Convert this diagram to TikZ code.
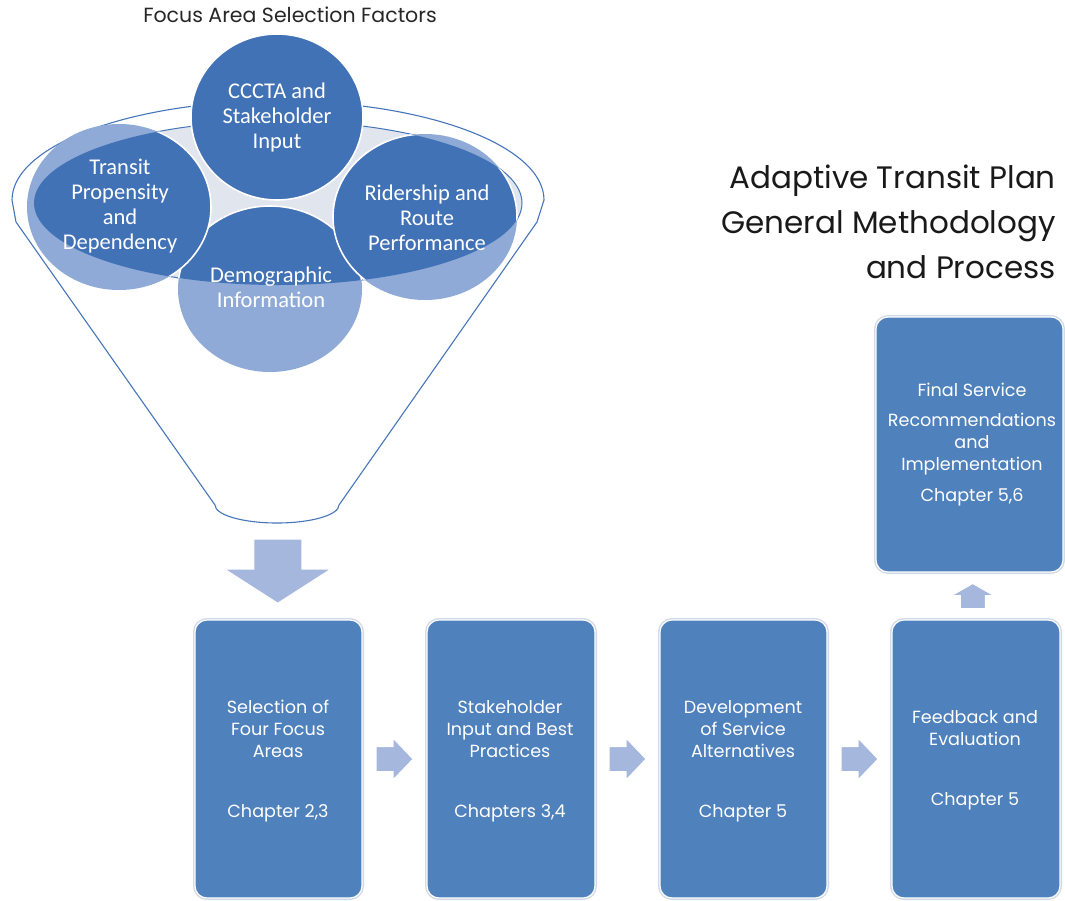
\documentclass[tikz,border=0pt]{standalone}
\usepackage{fontspec}
\setmainfont{Poppins}
\newfontfamily\calib{Carlito}
\usetikzlibrary{calc}
\definecolor{boxblue}{RGB}{79,129,189}
\definecolor{cdark}{RGB}{66,114,182}
\definecolor{clight}{RGB}{143,170,214}
\definecolor{gapcol}{RGB}{224,229,238}
\definecolor{arrowcol}{RGB}{165,183,221}
\definecolor{linecol}{RGB}{70,118,185}
\definecolor{glowcol}{RGB}{210,218,232}
\tikzset{
  stepbox/.style={rounded corners=12pt, fill=boxblue, draw=white, line width=1.2pt,
    preaction={draw=glowcol, line width=4pt}, inner sep=0pt},
  btext/.style={text=white, align=center, inner sep=0pt, font=\fontsize{17.6}{22}\selectfont},
  ctext/.style={text=white, align=center, inner sep=0pt, font=\calib\fontsize{22.5}{25}\selectfont},
  blockarrow/.style={fill=arrowcol, draw=white, line width=1pt, line join=miter},
  funnelline/.style={draw=linecol, line width=1.1pt}
}
\begin{document}
\begin{tikzpicture}[x=1pt,y=-1pt]
\useasboundingbox (0,0) rectangle (1065,900);
% heading
\node[font=\fontsize{20.5}{24}\selectfont, text=black!85, inner sep=0pt] (factors) at (290,15) {Focus Area Selection Factors};
% funnel body
\path[funnelline, fill=white] (12,200) arc[start angle=180, end angle=360, x radius=266, y radius=99]
  -- (537,222) -- (339,505) arc[start angle=0, end angle=180, x radius=62, y radius=18]
  -- (16,222) -- cycle;
\coordinate (fbottom) at (277,523);
% inner rim
\def\rim{(278,203) ellipse[x radius=244, y radius=82]}
\path[draw=linecol, line width=1pt, fill=gapcol] \rim;
% circles: Demographic, Transit, Ridership
\foreach \cx/\cy in {270/289, 119/207, 425/217}{
  \fill[clight] (\cx,\cy) ellipse[x radius=92, y radius=83];
  \begin{scope}
    \clip \rim;
    \path[fill=cdark, draw=white, line width=1.6pt] (\cx,\cy) ellipse[x radius=92, y radius=83];
  \end{scope}
}
\path[fill=cdark, draw=white, line width=1.6pt] (277,117) ellipse[x radius=86, y radius=83];
\node[ctext] (cccta) at (277,117) {CCCTA and\\Stakeholder\\Input};
\node[ctext] (transit) at (120,206) {Transit\\Propensity\\and\\Dependency};
\node[ctext] (rider) at (427,218) {Ridership and\\Route\\Performance};
\node[ctext] (demo) at (271,287) {Demographic\\Information};
% title
\node[anchor=east, align=right, inner sep=0pt, text=black!90, font=\fontsize{31}{45}\selectfont] (title) at (1056,222)
  {Adaptive Transit Plan\\General Methodology\\and Process};
% boxes
\node[stepbox, minimum width=167pt, minimum height=278pt] (b1) at (278.5,759) {};
\node[stepbox, minimum width=168pt, minimum height=278pt] (b2) at (511,759) {};
\node[stepbox, minimum width=167pt, minimum height=278pt] (b3) at (743.5,759) {};
\node[stepbox, minimum width=168pt, minimum height=278pt] (b4) at (976,759) {};
\node[stepbox, minimum width=187pt, minimum height=255pt] (b5) at (969.5,444.5) {};
% box texts
\node[btext] (t1) at (278,729) {Selection of\\Four Focus\\Areas};
\node[btext] (c1) at (278,813) {Chapter 2,3};
\node[btext] (t2) at (510,729) {Stakeholder\\Input and Best\\Practices};
\node[btext] (c2) at (510,813) {Chapters 3,4};
\node[btext] (t3) at (743,729) {Development\\of Service\\Alternatives};
\node[btext] (c3) at (743,813) {Chapter 5};
\node[btext] (t4) at (975,728) {Feedback and\\Evaluation};
\node[btext] (c4) at (975,801) {Chapter 5};
\node[btext] (t5a) at (972,390) {Final Service};
\node[btext] (t5b) at (972,444) {Recommendations\\and\\Implementation};
\node[btext] (c5) at (972,497) {Chapter 5,6};
% block arrows
\coordinate (mdown) at ($(fbottom)!0.5!(b1.north)$);
\coordinate (m12) at ($(b1.east)!0.5!(b2.west)$);
\coordinate (m23) at ($(b2.east)!0.5!(b3.west)$);
\coordinate (m34) at ($(b3.east)!0.5!(b4.west)$);
\coordinate (mup) at ($(b4.north)!0.5!(b5.south)$);
\begin{scope}[shift={(mdown)}]
  \path[blockarrow] (-24,-32) -- (24,-32) -- (24,-2) -- (53,-2) -- (0,32) -- (-53,-2) -- (-24,-2) -- cycle;
\end{scope}
\foreach \m in {m12,m23,m34}{
  \begin{scope}[shift={(\m)}]
    \path[blockarrow] (-18.5,-12.5) -- (-1.5,-12.5) -- (-1.5,-21) -- (18.5,0) -- (-1.5,21) -- (-1.5,12.5) -- (-18.5,12.5) -- cycle;
  \end{scope}
}
\begin{scope}[shift={(mup)}]
  \path[blockarrow] (0,-12.5) -- (21,-0.5) -- (12.5,-0.5) -- (12.5,12.5) -- (-12.5,12.5) -- (-12.5,-0.5) -- (-21,-0.5) -- cycle;
\end{scope}
\end{tikzpicture}
\end{document}
